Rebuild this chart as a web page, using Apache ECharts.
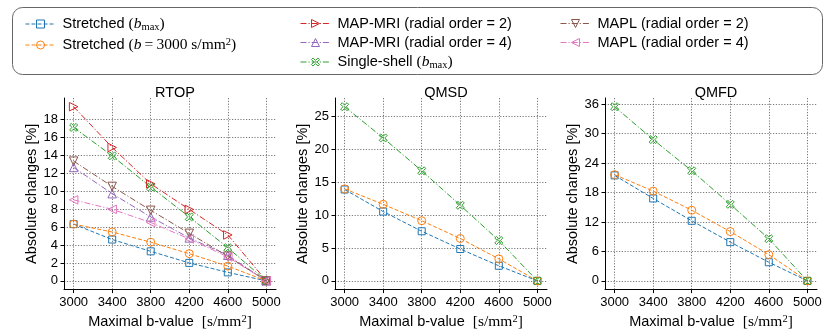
<!DOCTYPE html>
<html>
<head>
<meta charset="utf-8">
<script src="https://cdn.jsdelivr.net/npm/echarts@6/dist/echarts.min.js"></script>
<style>
html,body{margin:0;padding:0;background:#fff;}
#chart{width:826px;height:335px;}
</style>
</head>
<body>
<div id="chart"></div>
<script>
// ---------------- data ----------------
const bValues = [3000, 3400, 3800, 4200, 4600, 5000];
const xTicks = [3000, 3400, 3800, 4200, 4600, 5000];

const panelTitles = ['RTOP', 'QMSD', 'QMFD'];
const rtopTicks = [0, 2, 4, 6, 8, 10, 12, 14, 16, 18];
const qmsdTicks = [0, 5, 10, 15, 20, 25];
const qmfdTicks = [0, 6, 12, 18, 24, 30, 36];

const seriesNames = [
  'Stretched (bmax)',
  'Stretched (b=3000 s/mm2)',
  'MAP-MRI (radial order = 2)',
  'MAP-MRI (radial order = 4)',
  'Single-shell (bmax)',
  'MAPL (radial order = 2)',
  'MAPL (radial order = 4)'
];

// RTOP
const rtopStretchedBmax  = [6.34, 4.62, 3.30, 2.01, 0.95, 0];
const rtopStretchedB3000 = [6.34, 5.46, 4.32, 3.04, 1.65, 0];
const rtopMapmri2        = [19.45, 14.90, 10.84, 7.98, 5.13, 0];
const rtopMapmri4        = [12.67, 9.74, 7.14, 4.80, 2.86, 0];
const rtopSingleShell    = [17.14, 13.96, 10.48, 7.14, 3.70, 0];
const rtopMapl2          = [13.37, 10.55, 7.88, 5.31, 2.75, 0];
const rtopMapl4          = [9.05, 7.99, 6.52, 4.69, 2.67, 0];
// QMSD
const qmsdStretchedBmax  = [13.90, 10.55, 7.55, 4.85, 2.30, 0];
const qmsdStretchedB3000 = [14.00, 11.65, 9.15, 6.45, 3.35, 0];
const qmsdSingleShell    = [26.50, 21.75, 16.75, 11.50, 6.15, 0];
// QMFD
const qmfdStretchedBmax  = [21.50, 16.80, 12.25, 7.90, 3.80, 0];
const qmfdStretchedB3000 = [21.65, 18.30, 14.40, 10.05, 5.35, 0];
const qmfdSingleShell    = [35.50, 28.80, 22.45, 15.60, 8.60, 0];

// ---------------- styles ----------------
const XPATH = 'path://M2,0 L5,3 L8,0 L10,2 L7,5 L10,8 L8,10 L5,7 L2,10 L0,8 L3,5 L0,2 Z';
const TRI_R = 'path://M0,0 L10,5 L0,10 Z';
const TRI_L = 'path://M10,0 L0,5 L10,10 Z';
const TRI_D = 'path://M0,0 L10,0 L5,9 Z';
const TRI_U = 'path://M5,0 L10,9 L0,9 Z';
const DASH = [4, 2];
const DASHDOT = [6, 2, 1.2, 2];
const HOLLOW = 'rgba(255,255,255,0)';

const styleMap = {
  'Stretched (bmax)':           {color: '#1f77b4', symbol: 'rect', size: 7, dash: DASH},
  'Stretched (b=3000 s/mm2)':   {color: '#ff7f0e', symbol: 'circle', size: 8, dash: DASH},
  'MAP-MRI (radial order = 2)': {color: '#d62728', symbol: TRI_R, size: 8.5, dash: DASHDOT},
  'MAP-MRI (radial order = 4)': {color: '#9467bd', symbol: TRI_U, size: 8.5, dash: DASHDOT},
  'Single-shell (bmax)':        {color: '#2ca02c', symbol: XPATH, size: 8, dash: DASHDOT},
  'MAPL (radial order = 2)':    {color: '#8c564b', symbol: TRI_D, size: 8.5, dash: DASHDOT},
  'MAPL (radial order = 4)':    {color: '#e377c2', symbol: TRI_L, size: 8.5, dash: DASHDOT}
};

const panelData = [
  {ticks: rtopTicks, series: [
    [seriesNames[0], rtopStretchedBmax], [seriesNames[1], rtopStretchedB3000],
    [seriesNames[2], rtopMapmri2], [seriesNames[3], rtopMapmri4],
    [seriesNames[4], rtopSingleShell], [seriesNames[5], rtopMapl2], [seriesNames[6], rtopMapl4]]},
  {ticks: qmsdTicks, series: [
    [seriesNames[0], qmsdStretchedBmax], [seriesNames[1], qmsdStretchedB3000],
    [seriesNames[4], qmsdSingleShell]]},
  {ticks: qmfdTicks, series: [
    [seriesNames[0], qmfdStretchedBmax], [seriesNames[1], qmfdStretchedB3000],
    [seriesNames[4], qmfdSingleShell]]}
];

const gridLefts = [64, 335, 605];
const gridW = 212;
const FONT = 'Liberation Sans';
const SERIF = 'Liberation Serif';

const mathRich = {
  t:   {fontFamily: FONT, fontSize: 14.5, color: '#000', lineHeight: 17},
  m:   {fontFamily: SERIF, fontSize: 15.5, color: '#000', lineHeight: 17},
  mi:  {fontFamily: SERIF, fontSize: 15.5, fontStyle: 'italic', color: '#000', lineHeight: 17},
  sub: {fontFamily: SERIF, fontSize: 10.5, color: '#000', lineHeight: 11, verticalAlign: 'bottom'},
  sup: {fontFamily: SERIF, fontSize: 10.5, color: '#000', lineHeight: 11, verticalAlign: 'top'}
};

const legendLabel = {
  'Stretched (bmax)': '{t|Stretched }{m|(}{mi|b}{sub|max}{m|)}',
  'Stretched (b=3000 s/mm2)': '{t|Stretched }{m|(}{mi|b}{m|\u2009=\u20093000 s/mm}{sup|2}{m|)}',
  'Single-shell (bmax)': '{t|Single-shell }{m|(}{mi|b}{sub|max}{m|)}'
};

const gridLineStyle = {color: '#555', width: 0.8, type: [1.2, 1.6]};

const grids = [], xAxes = [], yAxes = [], series = [], titles = [];
panelData.forEach((p, i) => {
  grids.push({left: gridLefts[i], top: 98, width: gridW, height: 193});
  titles.push({text: panelTitles[i], left: gridLefts[i] + gridW / 2, top: 80, textAlign: 'center',
    textStyle: {fontFamily: FONT, fontSize: 14.5, fontWeight: 'normal', color: '#000'}});
  let maxV = 0;
  p.series.forEach(s => s[1].forEach(v => { if (v > maxV) maxV = v; }));
  const xr = xTicks[xTicks.length - 1] - xTicks[0];
  xAxes.push({
    type: 'value', gridIndex: i,
    min: xTicks[0] - 0.05 * xr, max: xTicks[xTicks.length - 1] + 0.05 * xr,
    name: '{t|Maximal b-value  }{m|[s/mm}{sup|2}{m|]}',
    nameLocation: 'middle', nameGap: 21,
    nameTextStyle: {rich: mathRich},
    axisLine: {show: true, onZero: false, lineStyle: {color: '#000', width: 1}},
    axisTick: {show: true, length: 3.5, customValues: xTicks, lineStyle: {color: '#000'}},
    axisLabel: {customValues: xTicks, margin: 6, fontFamily: FONT, fontSize: 13, color: '#000',
      formatter: v => String(v)},
    splitLine: {show: true, lineStyle: gridLineStyle}
  });
  yAxes.push({
    type: 'value', gridIndex: i,
    min: -0.05 * maxV, max: maxV * 1.05,
    name: 'Absolute changes [%]',
    nameLocation: 'middle', nameGap: 21,
    nameTextStyle: {fontFamily: FONT, fontSize: 14.5, color: '#000'},
    axisLine: {show: true, onZero: false, lineStyle: {color: '#000', width: 1}},
    axisTick: {show: true, length: 3.5, customValues: p.ticks, lineStyle: {color: '#000'}},
    axisLabel: {customValues: p.ticks, margin: 6, fontFamily: FONT, fontSize: 13, color: '#000',
      formatter: v => String(v)},
    splitLine: {show: true, lineStyle: gridLineStyle}
  });
  p.series.forEach(([name, vals]) => {
    const st = styleMap[name];
    series.push({
      type: 'line', name: name, xAxisIndex: i, yAxisIndex: i,
      data: bValues.map((b, k) => [b, vals[k]]),
      symbol: st.symbol, symbolSize: st.size, showSymbol: true,
      lineStyle: {color: st.color, width: 1, type: st.dash},
      itemStyle: {color: HOLLOW, borderColor: st.color, borderWidth: 1},
      emphasis: {disabled: true},
      animation: false
    });
  });
});

const legendBase = {
  orient: 'vertical', top: 11, itemWidth: 30, itemHeight: 10, itemGap: 4,
  formatter: n => legendLabel[n] || ('{t|' + n + '}'),
  textStyle: {rich: mathRich, padding: [0, 0, 0, 2]},
  itemStyle: {color: HOLLOW, borderWidth: 1},
  lineStyle: {width: 1},
  selectedMode: false
};
const legends = [
  Object.assign({}, legendBase, {left: 20, data: [seriesNames[0], seriesNames[1]]}),
  Object.assign({}, legendBase, {left: 295, data: [seriesNames[2], seriesNames[3], seriesNames[4]]}),
  Object.assign({}, legendBase, {left: 555, data: [seriesNames[5], seriesNames[6]]})
];

const chart = echarts.init(document.getElementById('chart'), null, {renderer: 'canvas'});
chart.setOption({
  animation: false,
  backgroundColor: '#fff',
  title: titles,
  grid: grids,
  xAxis: xAxes,
  yAxis: yAxes,
  legend: legends,
  series: series,
  graphic: [{
    type: 'rect', left: 10, top: 5, z: -1,
    shape: {width: 810, height: 67, r: 10},
    style: {fill: 'none', stroke: '#666', lineWidth: 1}
  }]
});
</script>
</body>
</html>
